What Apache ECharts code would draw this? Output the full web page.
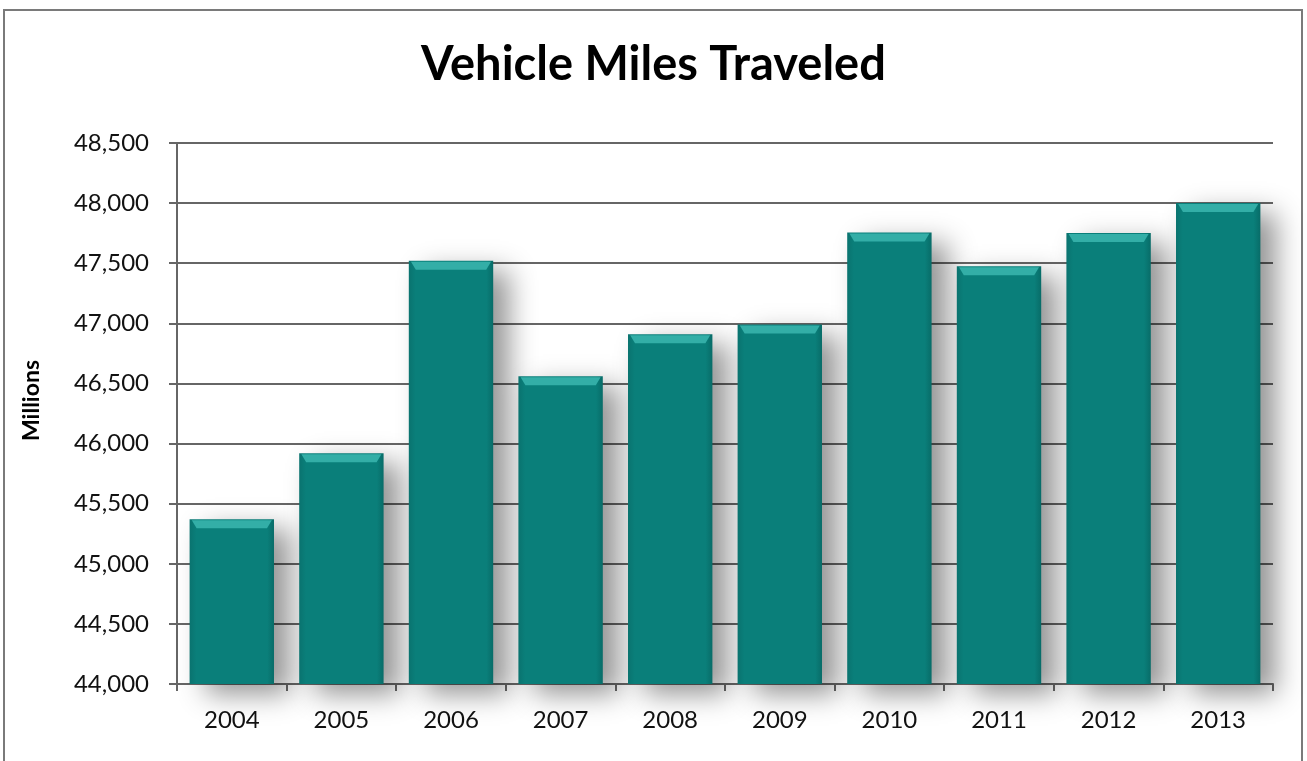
<!DOCTYPE html>
<html>
<head>
<meta charset="utf-8">
<script src="https://cdn.jsdelivr.net/npm/echarts@6/dist/echarts.min.js"></script>
<style>
html,body{margin:0;padding:0;background:#fff;}
#chart{width:1307px;height:761px;}
</style>
</head>
<body>
<div id="chart"></div>
<script>
const years = ['2004','2005','2006','2007','2008','2009','2010','2011','2012','2013'];
const vmt = [45370, 45920, 47520, 46560, 46910, 46990, 47755, 47475, 47752, 48000];
const yTicks = {min: 44000, max: 48500, interval: 500};

const chart = echarts.init(document.getElementById('chart'));
const fontFam = 'Lato, "Open Sans", sans-serif';
chart.setOption({
  animation: false,
  backgroundColor: '#fff',
  title: {
    text: 'Vehicle Miles Traveled',
    left: 'center',
    top: 36,
    textStyle: {fontFamily: fontFam, fontWeight: 'bold', fontSize: 47, color: '#000'}
  },
  graphic: [{
    type: 'rect', silent: true, z: -1,
    shape: {x: 4, y: 10, width: 1298, height: 800},
    style: {fill: 'none', stroke: '#7a7a7a', lineWidth: 2}
  }],
  grid: {left: 177, right: 34, top: 143, bottom: 77, containLabel: false},
  xAxis: {
    type: 'category',
    data: years,
    axisLine: {lineStyle: {color: '#666', width: 2}},
    axisTick: {show: true, length: 7, lineStyle: {color: '#666', width: 2}},
    axisLabel: {fontFamily: fontFam, fontSize: 24, color: '#111', margin: 24}
  },
  yAxis: {
    type: 'value',
    min: yTicks.min, max: yTicks.max, interval: yTicks.interval,
    name: 'Millions',
    nameLocation: 'middle',
    nameGap: 134,
    nameTextStyle: {fontFamily: fontFam, fontWeight: 'bold', fontSize: 23, color: '#000', padding: [0, 0, 0, 26]},
    axisLine: {show: true, lineStyle: {color: '#666', width: 2}},
    axisTick: {show: true, length: 8, lineStyle: {color: '#666', width: 2}},
    axisLabel: {
      fontFamily: fontFam, fontSize: 24, color: '#111', margin: 28,
      formatter: v => v.toLocaleString('en-US')
    },
    splitLine: {lineStyle: {color: '#666', width: 2}}
  },
  series: [
    {
      type: 'bar',
      data: vmt,
      barCategoryGap: '23%',
      itemStyle: {
        color: new echarts.graphic.LinearGradient(0, 0, 1, 0, [
          {offset: 0, color: '#0a736f'},
          {offset: 0.08, color: '#0a7f7a'},
          {offset: 0.92, color: '#0a7f7a'},
          {offset: 1, color: '#086c68'}
        ]),
        shadowColor: 'rgba(0,0,0,0.42)',
        shadowBlur: 26,
        shadowOffsetX: 16,
        shadowOffsetY: 10
      },
      z: 2
    },
    {
      type: 'pictorialBar',
      data: vmt,
      symbol: 'path://M0,0 L100,0 L94,10 L6,10 Z',
      symbolSize: [80, 8],
      symbolPosition: 'end',
      symbolOffset: [0, 1],
      itemStyle: {color: '#33aea7'},
      z: 3,
      silent: true
    }
  ]
});
</script>
</body>
</html>
